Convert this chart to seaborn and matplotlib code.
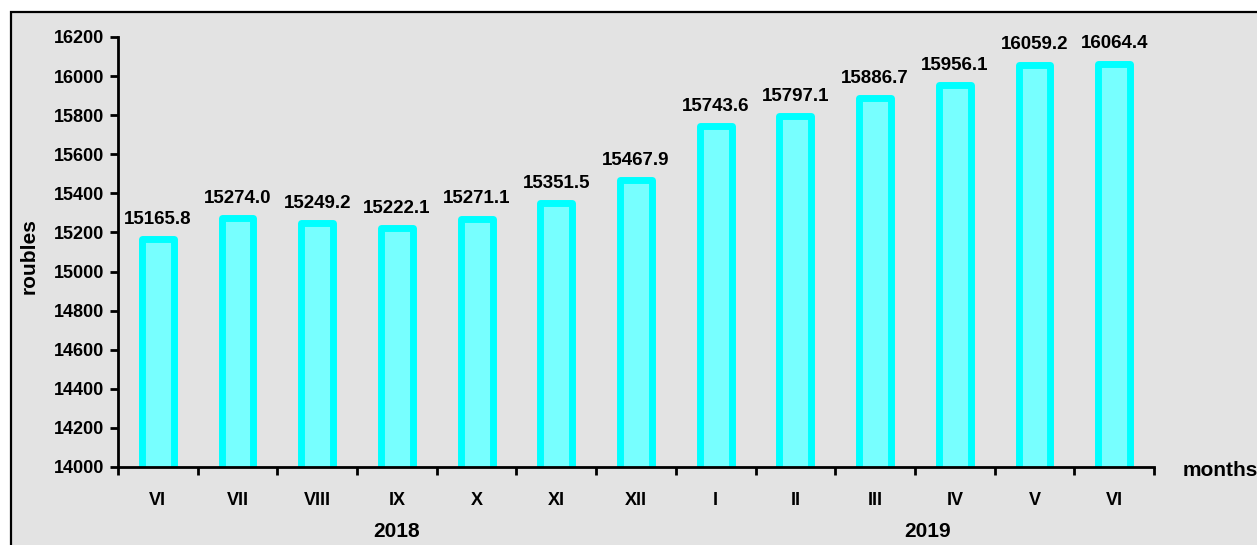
import pandas as pd
import seaborn as sns
import matplotlib.pyplot as plt
from matplotlib.patches import Rectangle

# data
months = ["VI", "VII", "VIII", "IX", "X", "XI", "XII", "I", "II", "III", "IV", "V", "VI"]
years = ["2018"] * 7 + ["2019"] * 6
values = [15165.8, 15274.0, 15249.2, 15222.1, 15271.1, 15351.5, 15467.9,
          15743.6, 15797.1, 15886.7, 15956.1, 16059.2, 16064.4]

df = pd.DataFrame({"key": [f"{m} {y}" for m, y in zip(months, years)],
                   "month": months, "year": years, "value": values})

plt.rcParams['font.family'] = ['Liberation Sans', 'DejaVu Sans']
plt.rcParams['font.weight'] = 'bold'
plt.rcParams['font.size'] = 13

fig = plt.figure(figsize=(12.57, 5.45), dpi=100)
fig.patch.set_facecolor("white")

# grey panel with black frame (runs off the right and bottom edges)
panel = Rectangle((11 / 1257, -0.1), 1.2, 1 - 12 / 545 + 0.1, transform=fig.transFigure,
                  facecolor="#e3e3e3", edgecolor="black", linewidth=1.6, zorder=-10)
fig.patches.append(panel)

ax = fig.add_axes([118 / 1257, 1 - 467 / 545, 1036 / 1257, 430 / 545])
ax.set_facecolor("none")

sns.barplot(data=df, x="key", y="value", color="#77ffff", width=0.4, saturation=1,
            edgecolor="#00ffff", linewidth=5, ax=ax, zorder=2)
for p in ax.patches:
    p.set_joinstyle("round")

ax.set_ylim(14000, 16200)
ax.set_yticks(range(14000, 16201, 200))
ax.set_xlim(-0.5, len(values) - 0.5)

ax.bar_label(ax.containers[0], labels=[f"{v:.1f}" for v in values],
             padding=8, fontsize=13.5, fontweight="bold")

# month labels, ticks between categories
ax.set_xticks(range(len(values)))
ax.set_xticklabels(months)
ax.tick_params(axis="x", length=0, pad=18)
ax.set_xticks([i - 0.5 for i in range(len(values) + 1)], minor=True)
ax.tick_params(axis="x", which="minor", length=6, width=2, direction="out")
ax.tick_params(axis="y", length=6, width=2, direction="out", pad=4)

for s in ["top", "right"]:
    ax.spines[s].set_visible(False)
for s in ["left", "bottom"]:
    ax.spines[s].set_linewidth(2)

ax.set_xlabel("")
ax.set_ylabel("roubles", fontsize=15, fontweight="bold")
ax.yaxis.set_label_coords(-0.077, 0.49)

ax.text(1.028, -0.007, "months", transform=ax.transAxes, ha="left", va="center",
        fontsize=15, fontweight="bold")

# year labels under the month groups
trans = ax.get_xaxis_transform()
ax.text(3.0, -0.151, "2018", transform=trans, ha="center", va="center",
        fontsize=15, fontweight="bold")
ax.text(9.66, -0.151, "2019", transform=trans, ha="center", va="center",
        fontsize=15, fontweight="bold")

plt.savefig("out.png", dpi=100)
